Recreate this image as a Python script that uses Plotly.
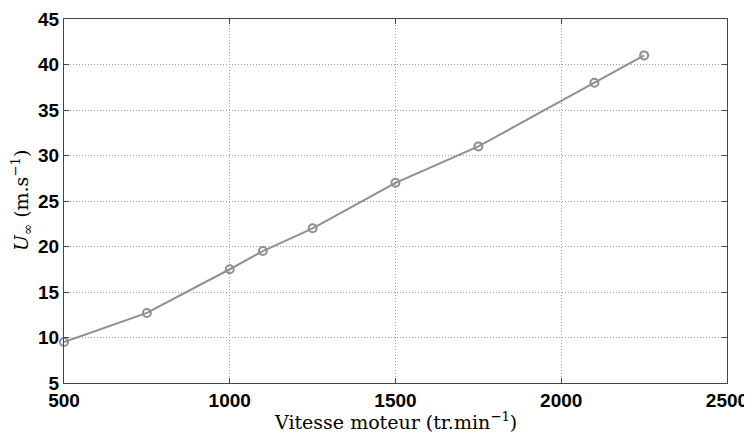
import plotly.graph_objects as go

# vitesse moteur (tr/min) et vitesse de l'écoulement (m/s)
vitesse = [500, 750, 1000, 1100, 1250, 1500, 1750, 2100, 2250]
u_inf = [9.5, 12.7, 17.5, 19.5, 22.0, 27.0, 31.0, 38.0, 41.0]

x_ticks = [500, 1000, 1500, 2000, 2500]
y_ticks = [5, 10, 15, 20, 25, 30, 35, 40, 45]

fig = go.Figure()
fig.add_trace(go.Scatter(
    x=vitesse, y=u_inf, mode="lines+markers",
    line=dict(color="#8f8f8f", width=2),
    marker=dict(symbol="circle-open", size=8, color="#8f8f8f", line=dict(width=2)),
    cliponaxis=False,
))

axis_common = dict(
    showline=True, linecolor="#444", linewidth=1, mirror="ticks",
    ticks="inside", ticklen=5, tickcolor="#444",
    showgrid=True, gridcolor="#9a9a9a", griddash="1px,2px", gridwidth=1,
    zeroline=False, automargin=False,
    tickfont=dict(family="Liberation Sans, Arial", size=19, color="black", weight="bold"),
)

fig.update_xaxes(range=[500, 2500], tickvals=x_ticks, ticklabelstandoff=0, **axis_common)
fig.update_yaxes(range=[5, 45], tickvals=y_ticks, ticklabelstandoff=0, **axis_common)

title_font = dict(family="DejaVu Serif, serif", size=19, color="black")
fig.add_annotation(
    text="Vitesse moteur (tr.min<sup>−1</sup>)", font=title_font,
    xref="paper", yref="paper", x=0.5, y=0, xanchor="center", yanchor="top",
    yshift=-24, showarrow=False,
)
fig.add_annotation(
    text="<i>U</i><sub>∞</sub> (m.s<sup>−1</sup>)", font=title_font, textangle=-90,
    xref="paper", yref="paper", x=0, y=0.5, xanchor="center", yanchor="middle",
    xshift=-43, showarrow=False,
)

# the page body has an 8px margin, so the figure is a bit smaller than the window
fig.update_layout(
    width=744, height=426,
    margin=dict(l=56, r=25, t=11, b=51),
    plot_bgcolor="white", paper_bgcolor="white",
    showlegend=False,
)

fig.write_html("out.html")
